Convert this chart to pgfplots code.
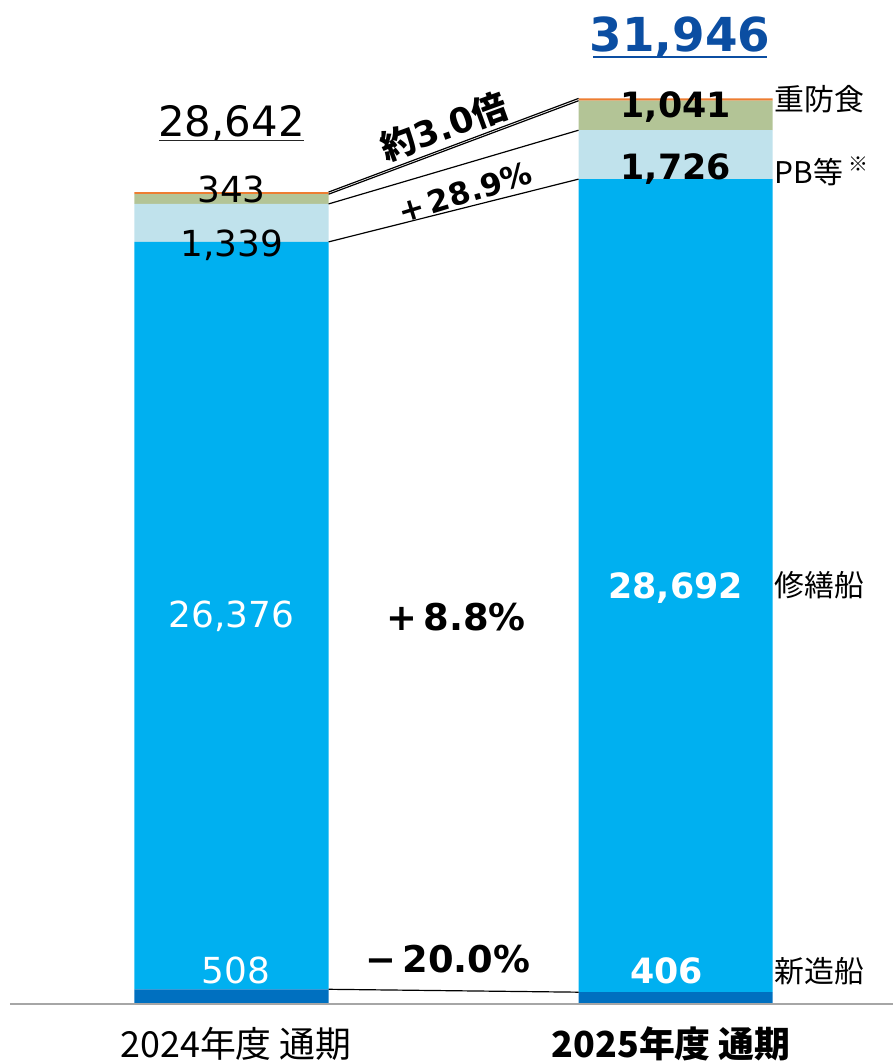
\documentclass[border=0pt]{standalone}
\usepackage{pgfplots}
\pgfplotsset{compat=1.18}
\usepackage{fontspec}
\setmainfont{DejaVu Sans}
\newfontfamily\jp{Noto Sans CJK JP}

\definecolor{shinzo}{HTML}{0070C0}
\definecolor{shuzen}{HTML}{00B0F0}
\definecolor{pbtou}{HTML}{C0E2EC}
\definecolor{jubo}{HTML}{B3C496}
\definecolor{sonota}{HTML}{ED7D31}
\definecolor{txt}{HTML}{262626}
\definecolor{totalblue}{HTML}{0B4EA2}

\newcommand{\fs}[1]{\fontsize{#1}{#1}\selectfont}

% labels and connectors, drawn on top of the bars
\newcommand{\annotations}{%
\path (rel axis cs:0,0) rectangle (rel axis cs:1,1);
% baseline
\draw[color=black!35, line width=2pt] (axis cs:-0.4989,0) -- (axis cs:1.4899,0);
% connectors
\draw[line width=1.2pt] (axis cs:0.2186,28642) -- (axis cs:0.7814,31946);
\draw[line width=1.2pt] (axis cs:0.2186,28566) -- (axis cs:0.7814,31865);
\draw[line width=1.2pt] (axis cs:0.2186,28223) -- (axis cs:0.7814,30824);
\draw[line width=1.2pt] (axis cs:0.2186,26884) -- (axis cs:0.7814,29098);
\draw[line width=1.2pt] (axis cs:0.2186,508) -- (axis cs:0.7814,406);
% totals
\node[anchor=base, inner sep=0pt] at (axis cs:0,30604) {\fs{42}28,642};
\draw[txt, line width=1.8pt] (axis cs:-0.1626,30464) -- (axis cs:0.1626,30464);
\node[anchor=base, inner sep=0pt, text=totalblue] at (axis cs:1.01,33591) {\fs{47}\bfseries 31,946};
\draw[totalblue, line width=2.5pt] (axis cs:0.815,33415) -- (axis cs:1.2052,33415);
% 2024
\node[anchor=base] at (axis cs:0,28285) {\fs{36}343};
\node[anchor=base] at (axis cs:0,26353) {\fs{36}1,339};
\node[anchor=base, text=white] at (axis cs:0,13282) {\fs{36}26,376};
\node[anchor=base, text=white] at (axis cs:0.01,703) {\fs{36}508};
% 2025
\node[anchor=base] at (axis cs:1,31272) {\fs{35}\bfseries 1,041};
\node[anchor=base] at (axis cs:1,29093) {\fs{35}\bfseries 1,726};
\node[anchor=base, text=white] at (axis cs:1,14301) {\fs{35}\bfseries 28,692};
\node[anchor=base, text=white] at (axis cs:0.98,703) {\fs{35}\bfseries 406};
% segment names
\node[anchor=west, inner sep=0pt] at (axis cs:1.2231,31904) {\jp\fs{30}重防食};
\node[anchor=west, inner sep=0pt] at (axis cs:1.2231,29374) {\jp\fs{30}PB等\,\raisebox{12pt}{\fs{20}※}};
\node[anchor=west, inner sep=0pt] at (axis cs:1.2231,14758) {\jp\fs{30}修繕船};
\node[anchor=west, inner sep=0pt] at (axis cs:1.2231,1160) {\jp\fs{30}新造船};
% changes
\node[rotate=20, inner sep=1pt] at (axis cs:0.4787,30950) {\fs{35}\bfseries{\jp\bfseries 約}3.0{\jp\bfseries 倍}};
\node[rotate=17, inner sep=1pt] at (axis cs:0.5258,28637) {\fs{31}\bfseries +\,28.9\%};
\node at (axis cs:0.5056,13633) {\fs{37}\bfseries +\,8.8\%};
\node at (axis cs:0.4877,1581) {\fs{37}\bfseries −\,20.0\%};
% categories
\node at (axis cs:0.01,-1405) {\jp\fs{36}2024年度 通期};
\node at (axis cs:0.99,-1405) {\jp\fs{36}\bfseries 2025年度 通期};
}

\begin{document}
\begin{tikzpicture}
\begin{axis}[
  scale only axis,
  width=897pt, height=1064pt,
  xmin=-0.5213, xmax=1.4899,
  ymin=-1968, ymax=35420,
  hide axis,
  clip=false,
  ybar stacked,
  bar width=0.4372,
  every node/.style={text=txt},
  after end axis/.code={\annotations},
]
% 新造船, 修繕船, PB等, 重防食, その他
\addplot[draw=none, fill=shinzo] coordinates {(0,508) (1,406)};
\addplot[draw=none, fill=shuzen] coordinates {(0,26376) (1,28692)};
\addplot[draw=none, fill=pbtou]  coordinates {(0,1339) (1,1726)};
\addplot[draw=none, fill=jubo]   coordinates {(0,343) (1,1041)};
\addplot[draw=none, fill=sonota] coordinates {(0,76) (1,81)};
\end{axis}
\end{tikzpicture}
\end{document}
